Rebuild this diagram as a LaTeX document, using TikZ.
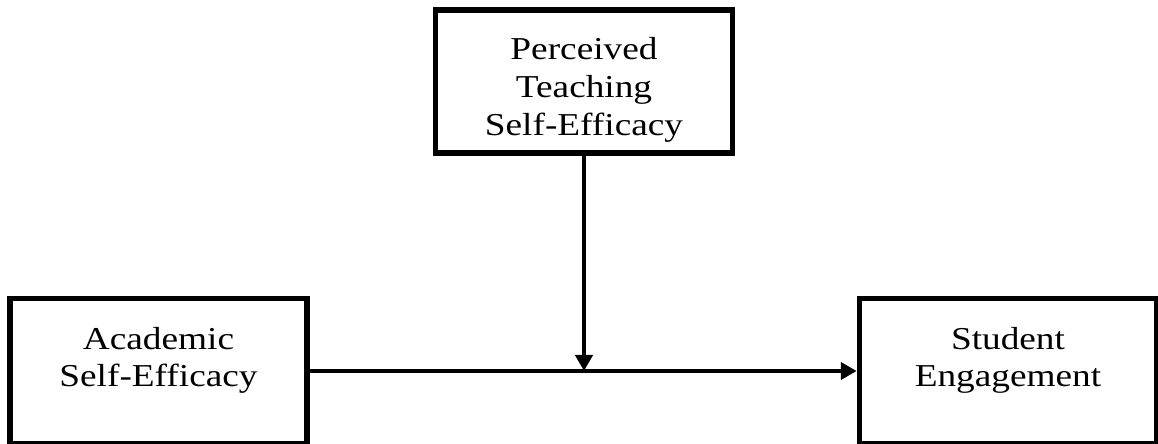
\documentclass[tikz,border=0pt]{standalone}
\usepackage{fontspec}
\setmainfont{Liberation Serif}[FakeStretch=1.17]
\usetikzlibrary{arrows.meta}
\begin{document}
\begin{tikzpicture}[x=1bp,y=-1bp,
  box/.style={draw, line width=5.5bp, minimum width=297bp, minimum height=145bp, inner sep=0pt},
  txt/.style={inner sep=0pt, anchor=base, font=\fontsize{32}{38}\selectfont},
  link/.style={line width=4bp},
  arr/.style={link, -{Triangle[length=16bp,width=17bp]}}]
\useasboundingbox (0,0) rectangle (1158,444);

% variable boxes
\node[box, minimum height=143bp] (tsef) at (584,81.5) {};
\node[box] (ase) at (158.5,371) {};
\node[box] (se) at (1008,371) {};

% box labels, one node per line
\node[txt] (tsef1) at (584,59.3) {Perceived};
\node[txt] (tsef2) at (584,97.7) {Teaching};
\node[txt] (tsef3) at (584,135.5) {Self-Efficacy};
\node[txt] (ase1) at (158.5,349.3) {Academic};
\node[txt] (ase2) at (158.5,386.7) {Self-Efficacy};
\node[txt] (se1) at (1008,349.5) {Student};
\node[txt] (se2) at (1008,387) {Engagement};

% direct path and moderating path
\draw[arr] (ase.east) -- (se.west);
\coordinate (meet) at (tsef.south |- ase.east);
\draw[arr] (tsef.south) -- (meet);
\end{tikzpicture}
\end{document}
